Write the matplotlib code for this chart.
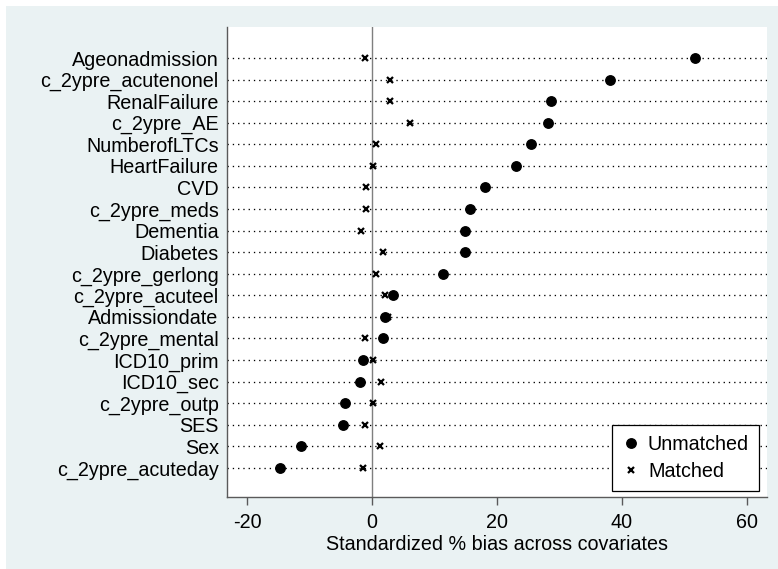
import numpy as np
import matplotlib.pyplot as plt
from matplotlib.patches import Rectangle

plt.rcParams["font.family"] = ["Liberation Sans", "DejaVu Sans"]

# ---- Data ----------------------------------------------------------------
covariates = ["Ageonadmission", "c_2ypre_acutenonel", "RenalFailure", "c_2ypre_AE",
              "NumberofLTCs", "HeartFailure", "CVD", "c_2ypre_meds", "Dementia",
              "Diabetes", "c_2ypre_gerlong", "c_2ypre_acuteel", "Admissiondate",
              "c_2ypre_mental", "ICD10_prim", "ICD10_sec", "c_2ypre_outp", "SES",
              "Sex", "c_2ypre_acuteday"]
unmatched = [51.7, 38.1, 28.6, 28.1, 25.5, 23.0, 18.0, 15.6, 14.9, 14.8,
             11.4, 3.4, 2.1, 1.7, -1.5, -2.0, -4.3, -4.6, -11.4, -14.7]
matched = [-1.2, 2.9, 2.8, 6.0, 0.6, 0.2, -0.9, -0.9, -1.7, 1.8,
           0.7, 2.1, 2.6, -1.1, 0.1, 1.4, 0.1, -1.1, 1.3, -1.4]
xticks = [-20, 0, 20, 40, 60]

bg = "#EAF2F3"
fs = 14.2

# ---- Figure setup --------------------------------------------------------
fig = plt.figure(figsize=(7.78, 5.69), dpi=100)
fig.patch.set_facecolor("white")
fig.patches.append(Rectangle((6 / 778, 0), 1, 563 / 569, transform=fig.transFigure,
                             facecolor=bg, edgecolor="none", zorder=-10))

ax = fig.add_axes([227 / 778, 72 / 569, 540 / 778, 470 / 569])
ax.set_facecolor("white")

n = len(covariates)
y = np.arange(n, 0, -1)

for yy in y:
    ax.plot([-23.2, 63.2], [yy, yy], color="black", lw=0.95,
            linestyle=(0, (1, 3)), zorder=1)
ax.axvline(0, color="#7f7f7f", lw=1.0, zorder=1)

ax.plot(unmatched, y, "o", color="black", ms=6.8, linestyle="none",
        label="Unmatched", zorder=3)
ax.plot(matched, y, "x", color="black", ms=4.5, mew=1.6, linestyle="none",
        label="Matched", zorder=3)

# ---- Cosmetics -----------------------------------------------------------
ax.set_xlim(-23.2, 63.2)
ax.set_ylim(1 - 1.35, n + 1.44)
ax.set_yticks(y)
ax.set_yticklabels(covariates, fontsize=fs)
ax.tick_params(axis="y", length=0, pad=6)
ax.set_xticks(xticks)
ax.set_xticklabels([str(t) for t in xticks], fontsize=fs)
ax.tick_params(axis="x", length=5.5, width=1.0, color="#5a5a5a", pad=6)
ax.set_xlabel("Standardized % bias across covariates", fontsize=fs, labelpad=2)

for spine in ("top", "right"):
    ax.spines[spine].set_visible(False)
for spine in ("left", "bottom"):
    ax.spines[spine].set_color("#5a5a5a")
    ax.spines[spine].set_linewidth(1.0)

leg = ax.legend(loc="lower right", bbox_to_anchor=(0.985, 0.013), borderaxespad=0,
                fontsize=fs, frameon=True, fancybox=False, edgecolor="black",
                framealpha=1, handletextpad=0.4, handlelength=0.9,
                borderpad=0.5, labelspacing=0.42)
leg.get_frame().set_linewidth(0.9)

plt.savefig("out.png", dpi=100, facecolor=fig.get_facecolor())
